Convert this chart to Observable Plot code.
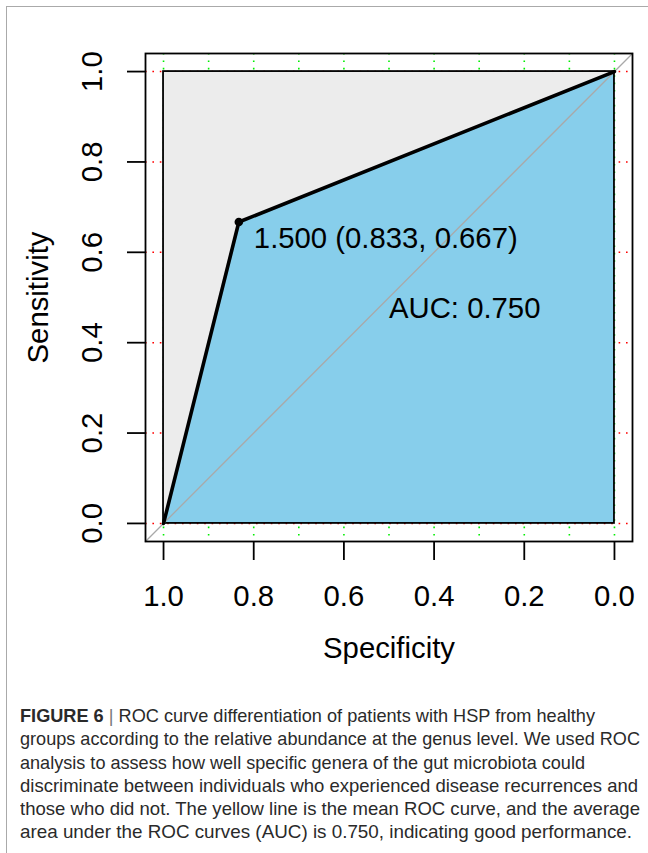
<!DOCTYPE html>
<html>
<head>
<meta charset="utf-8">
<script src="https://cdn.jsdelivr.net/npm/d3@7"></script>
<script src="https://cdn.jsdelivr.net/npm/@observablehq/plot@0.6"></script>
<style>
  html, body { margin: 0; padding: 0; background: #fff; width: 648px; height: 853px; overflow: hidden; }
  #border { position: absolute; left: 6px; top: 6px; width: 800px; height: 1000px;
            border-left: 1px solid #aaaaaa; border-top: 1px solid #aaaaaa; }
  #chart { position: absolute; left: 0; top: 0; }
  #caption { position: absolute; left: 20px; top: 705px; font-family: "Liberation Sans", Arial, sans-serif;
             font-size: 17.7px; line-height: 23.3px; color: #2a2a2a; }
  #caption .ln { display: block; white-space: nowrap; transform-origin: 0 0; width: max-content; }
  #caption .sep { color: #777; font-weight: 300; }
</style>
</head>
<body>
<div id="border"></div>
<div id="chart"></div>
<div id="caption"></div>
<script>
// ---- data ----
const xTicks = [1.0, 0.8, 0.6, 0.4, 0.2, 0.0];
const yTicks = [0.0, 0.2, 0.4, 0.6, 0.8, 1.0];
const gridSpecificity = [1.0, 0.9, 0.8, 0.7, 0.6, 0.5, 0.4, 0.3, 0.2, 0.1, 0.0];
const gridSensitivity = [0.0, 0.2, 0.4, 0.6, 0.8, 1.0];
const rocSpecificity = [1.0, 0.833, 0.0];
const rocSensitivity = [0.0, 0.667, 1.0];
const bestThreshold = [1.5];
const bestSpecificity = [0.833];
const bestSensitivity = [0.667];
const aucValue = [0.75];
const xDomain = [1.04, -0.04];
const yDomain = [-0.04, 1.04];
const maxSpec = [1.0, 0.0];
const maxSens = [0.0, 1.0];
const xLabel = "Specificity";
const yLabel = "Sensitivity";

const roc = rocSpecificity.map((s, i) => ({spec: s, sens: rocSensitivity[i]}));
const best = bestThreshold.map((t, i) => ({thr: t, spec: bestSpecificity[i], sens: bestSensitivity[i]}));
const auc = aucValue.map(a => ({auc: a, x: 0.5, y: 0.5}));
const maxBox = [{x1: maxSpec[0], x2: maxSpec[1], y1: maxSens[0], y2: maxSens[1]}];

const FS = 29.3;
const chart = Plot.plot({
  width: 648,
  height: 690,
  marginLeft: 145,
  marginRight: 16,
  marginTop: 53,
  marginBottom: 149,
  style: {fontFamily: "'Liberation Sans', Arial, Helvetica, sans-serif", fontSize: FS + "px", background: "transparent", color: "black"},
  x: {domain: xDomain},
  y: {domain: yDomain},
  marks: [
    Plot.ruleX(gridSpecificity, {x: d => d, stroke: "#00ee00", strokeWidth: 1.6, strokeDasharray: "1.6,5.8"}),
    Plot.ruleY(gridSensitivity, {y: d => d, stroke: "#ff0000", strokeWidth: 1.6, strokeDasharray: "1.6,5.8"}),
    Plot.rect(maxBox, {x1: "x1", x2: "x2", y1: "y1", y2: "y2", fill: "#ececec"}),
    Plot.areaY(roc, {x: "spec", y: "sens", fill: "#87ceeb", curve: "linear"}),
    Plot.rect(maxBox, {x1: "x1", x2: "x2", y1: "y1", y2: "y2", fill: "none", stroke: "black", strokeWidth: 1.8}),
    Plot.line(xDomain, {x: d => d, y: d => 1 - d, stroke: "#a9a9a9", strokeWidth: 1.3}),
    Plot.line(roc, {x: "spec", y: "sens", stroke: "black", strokeWidth: 3.6, strokeLinejoin: "round"}),
    Plot.dot(best, {x: "spec", y: "sens", r: 4.3, fill: "black", stroke: "none"}),
    Plot.text(best, {x: "spec", y: "sens", text: d => `${d.thr.toFixed(3)} (${d.spec.toFixed(3)}, ${d.sens.toFixed(3)})`,
      textAnchor: "start", lineAnchor: "middle", dx: 15, dy: 16.5, fontSize: FS, fill: "black"}),
    Plot.text(auc, {x: "x", y: "y", text: d => `AUC: ${d.auc.toFixed(3)}`, textAnchor: "start", lineAnchor: "top", fontSize: FS, fill: "black"}),
    Plot.frame({stroke: "black", strokeWidth: 1.8}),
    Plot.axisX({ticks: xTicks, anchor: "bottom", tickSize: 19, fill: "none", stroke: "black", strokeWidth: 1.8, label: null}),
    Plot.axisY({ticks: yTicks, anchor: "left", tickSize: 18, fill: "none", stroke: "black", strokeWidth: 1.8, label: null}),
    Plot.text(xTicks, {x: d => d, text: d => d.toFixed(1), frameAnchor: "bottom", textAnchor: "middle", lineAnchor: "middle", dy: 55, fontSize: FS, fill: "black"}),
    Plot.text(yTicks, {y: d => d, text: d => d.toFixed(1), frameAnchor: "left", textAnchor: "middle", lineAnchor: "middle", dx: -52.5, rotate: -90, fontSize: FS, fill: "black"}),
    Plot.text([xLabel], {text: d => d, frameAnchor: "bottom", textAnchor: "middle", lineAnchor: "middle", dy: 107, fontSize: FS, fill: "black"}),
    Plot.text([yLabel], {text: d => d, frameAnchor: "left", textAnchor: "middle", lineAnchor: "middle", dx: -107, rotate: -90, fontSize: FS, fill: "black"})
  ]
});
document.getElementById("chart").appendChild(chart);

// ---- caption ----
const captionLines = [
  '<b>FIGURE 6</b> <span class="sep">|</span> ROC curve differentiation of patients with HSP from healthy',
  'groups according to the relative abundance at the genus level. We used ROC',
  'analysis to assess how well specific genera of the gut microbiota could',
  'discriminate between individuals who experienced disease recurrences and',
  'those who did not. The yellow line is the mean ROC curve, and the average',
  'area under the ROC curves (AUC) is 0.750, indicating good performance.'
];
const captionWidths = [575, 620, 565, 618, 620, 612];
const cap = document.getElementById("caption");
captionLines.forEach((html, i) => {
  const s = document.createElement("span");
  s.className = "ln";
  s.innerHTML = html;
  cap.appendChild(s);
  const w = s.getBoundingClientRect().width;
  if (w > 0) s.style.transform = `scaleX(${captionWidths[i] / w})`;
});
</script>
</body>
</html>
